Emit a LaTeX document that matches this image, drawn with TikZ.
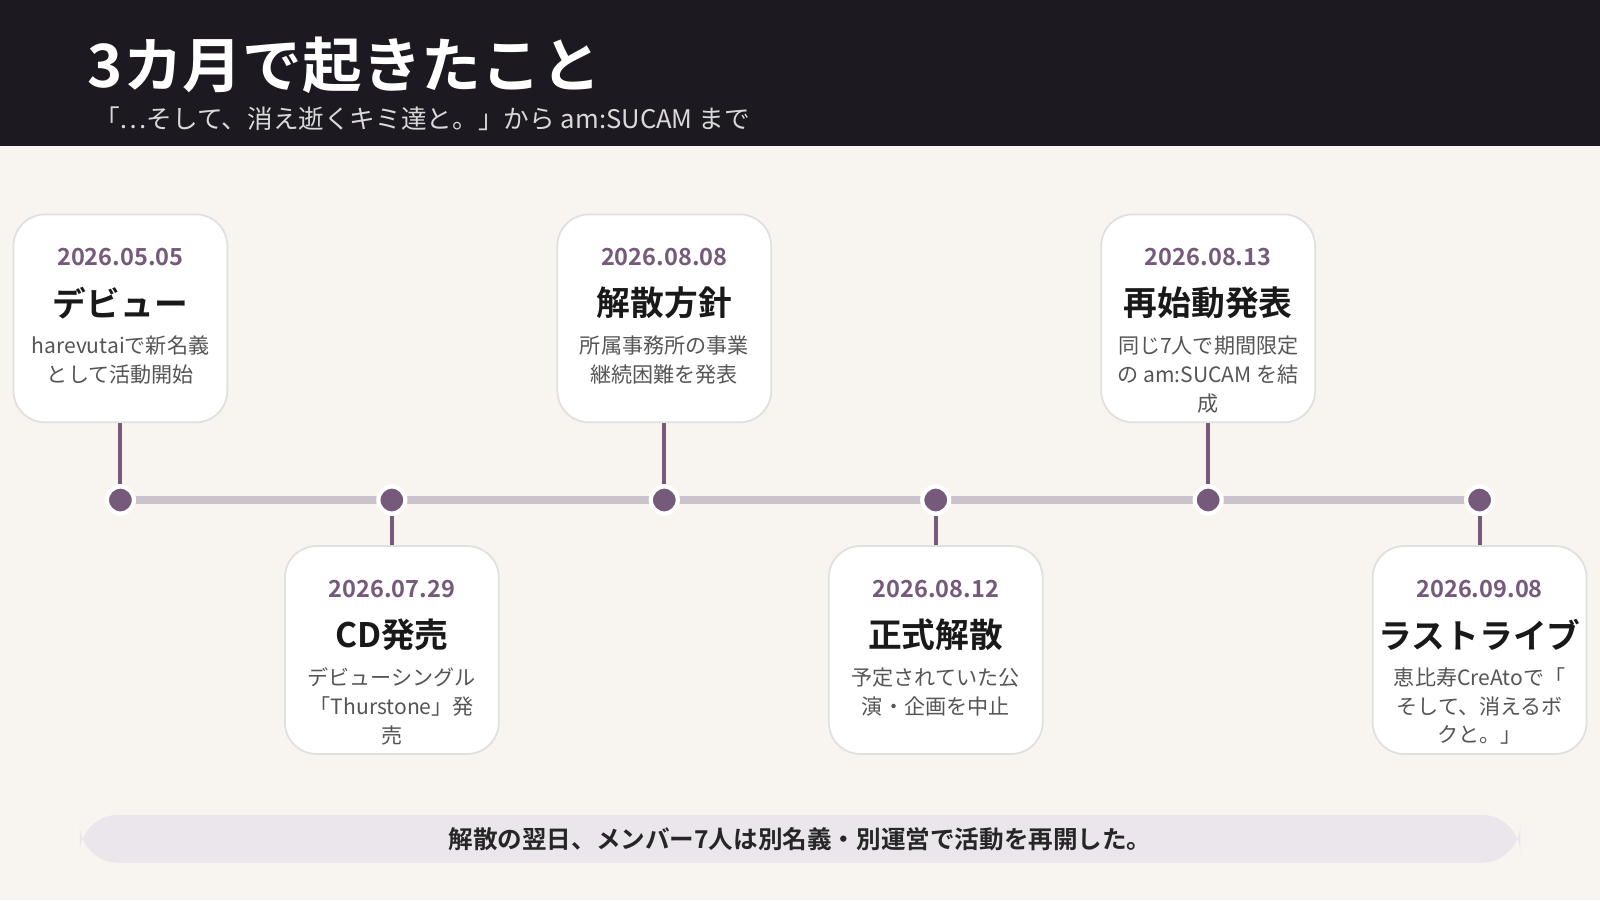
\documentclass[tikz,border=0pt]{standalone}
\usepackage{fontspec}
\setmainfont{Noto Sans CJK JP}[BoldFont={Noto Sans CJK JP Bold}]
\usetikzlibrary{positioning}
\definecolor{hdr}{HTML}{1C1A20}
\definecolor{paper}{HTML}{F8F5F0}
\definecolor{plum}{HTML}{765A7C}
\definecolor{rail}{HTML}{CBC3CC}
\definecolor{band}{HTML}{EBE6EC}
\definecolor{desc}{HTML}{555555}
\tikzset{
  card/.style={draw=black!12, fill=white, rounded corners=9pt, minimum width=2.14cm, minimum height=2.08cm, line width=0.5pt},
  date/.style={font=\bfseries\fontsize{6.7}{8}\selectfont, text=plum},
  ttl/.style={font=\bfseries\fontsize{9.6}{11}\selectfont, text=black!90},
  txt/.style={font=\fontsize{6}{8.2}\selectfont, text=desc, align=center},
  dot/.style={circle, fill=plum, draw=white, line width=1.2pt, minimum size=0.27cm, inner sep=0pt},
  stem/.style={draw=plum, line width=1.1pt}
}
\begin{document}
\begin{tikzpicture}[x=0.010204cm,y=-0.010204cm]
\useasboundingbox (0,0) rectangle (1568,882);
\fill[paper] (0,0) rectangle (1568,882);
\fill[hdr] (0,0) rectangle (1568,143);
\node[anchor=west, text=white, font=\bfseries\fontsize{17}{20}\selectfont] (head) at (74,64) {3カ月で起きたこと};
\node[anchor=west, text=white!85!black, font=\fontsize{7.3}{9}\selectfont] (sub) at (80,116) {「…そして、消え逝くキミ達と。」から am:SUCAM まで};

% rail
\draw[rail, line width=2.3pt] (118,490) -- (1450,490);

% top cards
\node[card] (c1) at (118,312) {};
\node[date] at (118,252) {2026.05.05};
\node[ttl] at (118,297) {デビュー};
\node[txt] at (118,353) {harevutaiで新名義\\として活動開始};

\node[card] (c3) at (651,312) {};
\node[date] at (651,252) {2026.08.08};
\node[ttl] at (651,297) {解散方針};
\node[txt] at (651,353) {所属事務所の事業\\継続困難を発表};

\node[card] (c5) at (1184,312) {};
\node[date] at (1184,252) {2026.08.13};
\node[ttl] at (1184,297) {再始動発表};
\node[txt] at (1184,367) {同じ7人で期間限定\\の am:SUCAM を結\\成};

% bottom cards
\node[card] (c2) at (384,637) {};
\node[date] at (384,577) {2026.07.29};
\node[ttl] at (384,622) {CD発売};
\node[txt] at (384,692) {デビューシングル\\「Thurstone」発\\売};

\node[card] (c4) at (917,637) {};
\node[date] at (917,577) {2026.08.12};
\node[ttl] at (917,622) {正式解散};
\node[txt] at (917,678) {予定されていた公\\演・企画を中止};

\node[card] (c6) at (1450,637) {};
\node[date] at (1450,577) {2026.09.08};
\node[ttl] at (1450,622) {ラストライブ};
\node[txt] at (1450,692) {恵比寿CreAtoで「\\そして、消えるボ\\クと。」};

% dots and stems
\foreach \i/\x in {1/118,2/384,3/651,4/917,5/1184,6/1450}
  \node[dot] (d\i) at (\x,490) {};
\foreach \i in {1,...,6}
  \draw[stem] (c\i) -- (d\i);

% footer
\node[fill=band, rounded corners=11pt, minimum width=14.41cm, minimum height=0.48cm,
  font=\bfseries\fontsize{7}{8}\selectfont, text=black!85] (note) at (784,822)
  {解散の翌日、メンバー7人は別名義・別運営で活動を再開した。};
\end{tikzpicture}
\end{document}
